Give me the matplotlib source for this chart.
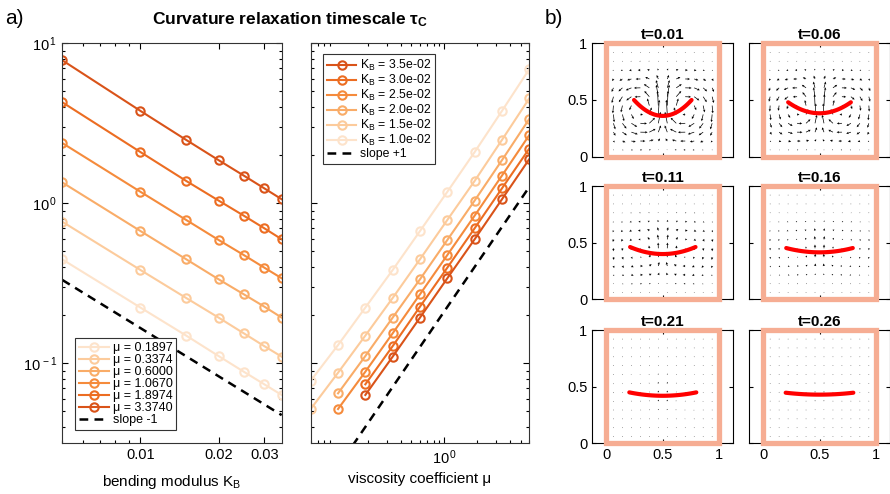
import numpy as np
import matplotlib.pyplot as plt
from matplotlib.ticker import LogLocator, NullFormatter, FixedLocator, FixedFormatter
from matplotlib.patches import Rectangle

plt.rcParams['font.family'] = ['Liberation Sans', 'DejaVu Sans']
plt.rcParams['mathtext.fontset'] = 'custom'
plt.rcParams['mathtext.rm'] = 'Liberation Sans'
plt.rcParams['mathtext.it'] = 'Liberation Sans:italic'
plt.rcParams['mathtext.bf'] = 'Liberation Sans:bold'

# ---- data ----
mu_vals = [0.06, 0.1067, 0.1897, 0.3374, 0.6, 1.067, 1.897, 3.374, 6.0]
kb_vals = [0.005, 0.01, 0.015, 0.02, 0.025, 0.03, 0.035]
nan = np.nan
# tau_c[i][j] -> kb_vals[i], mu_vals[j]
tau_c = np.array([
    [nan, nan, 0.446, 0.767, 1.35, 2.38, 4.28, 7.83, nan],
    [0.0778, 0.130, 0.223, 0.383, 0.671, 1.18, 2.09, 3.78, 6.9],
    [0.0518, 0.0873, 0.149, 0.256, 0.447, 0.787, 1.38, 2.49, 4.53],
    [nan, 0.0649, 0.111, 0.193, 0.335, 0.590, 1.04, 1.86, 3.37],
    [nan, 0.0518, 0.0886, 0.154, 0.270, 0.475, 0.837, 1.49, 2.67],
    [nan, nan, 0.0739, 0.128, 0.226, 0.396, 0.698, 1.24, 2.20],
    [nan, nan, 0.0634, 0.110, 0.193, 0.340, 0.596, 1.06, 1.89],
])
mu_legend = ['0.1897', '0.3374', '0.6000', '1.0670', '1.8974', '3.3740']
kb_legend = ['1.0e-02', '1.5e-02', '2.0e-02', '2.5e-02', '3.0e-02', '3.5e-02']
slope_m1_coef = 0.00166   # tau = c / K_B
slope_p1_coef = 0.211     # tau = c * mu

# panel b
times = ['0.01', '0.06', '0.11', '0.16', '0.21', '0.26']
half_width = [0.255, 0.278, 0.29, 0.295, 0.297, 0.30]
end_y = [0.50, 0.48, 0.462, 0.453, 0.45, 0.447]
mid_y = [0.36, 0.383, 0.40, 0.415, 0.42, 0.43]
flow_amp = [0.13, 0.10, 0.05, 0.033, 0.015, 0.01]
flow_peak = [0.30, 0.32, 0.34, 0.36, 0.38, 0.40]

colors = ['#FDE3CB', '#FCCB9C', '#F9AC68', '#F58B3C', '#EC6D22', '#D95319']

W, H = 890, 494
fig = plt.figure(figsize=(W / 100, H / 100), dpi=100)


def px_axes(x0, y0, x1, y1):
    return fig.add_axes([x0 / W, 1 - y1 / H, (x1 - x0) / W, (y1 - y0) / H])


def log_style(ax):
    ax.tick_params(which='both', direction='in', top=True, right=True,
                   labelsize=10.5, width=0.8)
    ax.tick_params(which='major', length=4)
    ax.tick_params(which='minor', length=2.5)
    for s in ax.spines.values():
        s.set_linewidth(0.8)
        s.set_color('#333333')


def pow_lab(e):
    return r'$\mathregular{10^{\,%d}}$' % e


# ---- left: tau vs K_B ----
ax1 = px_axes(62.3, 43.3, 281.7, 443.3)
for k, j in enumerate(range(2, 8)):
    ax1.plot(kb_vals, tau_c[:, j], '-o', color=colors[k], lw=1.5, ms=6,
             mfc='none', mew=1.5, label='μ = ' + mu_legend[k])
kk = np.array([kb_vals[0], kb_vals[-1]])
ax1.plot(kk, slope_m1_coef / kk, '--', color='k', lw=1.8, dashes=(3.5, 2.5),
         label='slope -1')
ax1.set_xscale('log')
ax1.set_yscale('log')
ax1.set_xlim(0.005, 0.035)
ax1.set_ylim(10 ** -1.5, 10)
ax1.xaxis.set_major_locator(FixedLocator([0.01, 0.02, 0.03]))
ax1.xaxis.set_major_formatter(FixedFormatter(['0.01', '0.02', '0.03']))
ax1.xaxis.set_minor_locator(LogLocator(subs=np.arange(2, 10), numticks=20))
ax1.xaxis.set_minor_formatter(NullFormatter())
ax1.yaxis.set_major_locator(FixedLocator([0.1, 1, 10]))
ax1.yaxis.set_major_formatter(FixedFormatter([pow_lab(-1), pow_lab(0), pow_lab(1)]))
ax1.yaxis.set_minor_locator(LogLocator(subs=np.arange(2, 10), numticks=20))
ax1.yaxis.set_minor_formatter(NullFormatter())
log_style(ax1)
ax1.set_xlabel(r'bending modulus K$_\mathregular{B}$', fontsize=11, labelpad=8)
leg1 = ax1.legend(loc='lower left', bbox_to_anchor=(0.03, 0.018), fontsize=9,
                  handlelength=2.4, labelspacing=0.0, borderpad=0.3,
                  handletextpad=0.3, frameon=True, fancybox=False,
                  edgecolor='#333333', framealpha=1)
leg1.get_frame().set_linewidth(0.8)

# ---- middle: tau vs mu ----
ax2 = px_axes(310.7, 43.3, 529.3, 443.3)
handles = []
for k in range(6):
    row = tau_c[k + 1]
    h, = ax2.plot(mu_vals, row, '-o', color=colors[k], lw=1.5, ms=6,
                  mfc='none', mew=1.5,
                  label=r'K$_\mathregular{B}$ = ' + kb_legend[k])
    handles.append(h)
mm = np.array([mu_vals[0], mu_vals[-1]])
hs, = ax2.plot(mm, slope_p1_coef * mm, '--', color='k', lw=1.8,
               dashes=(3.5, 2.5), label='slope +1')
ax2.set_xscale('log')
ax2.set_yscale('log')
ax2.set_xlim(mu_vals[0], mu_vals[-1])
ax2.set_ylim(10 ** -1.5, 10)
ax2.xaxis.set_major_locator(FixedLocator([1]))
ax2.xaxis.set_major_formatter(FixedFormatter([pow_lab(0)]))
ax2.xaxis.set_minor_locator(LogLocator(subs=np.arange(2, 10), numticks=20))
ax2.xaxis.set_minor_formatter(NullFormatter())
ax2.yaxis.set_major_locator(FixedLocator([0.1, 1, 10]))
ax2.yaxis.set_major_formatter(NullFormatter())
ax2.yaxis.set_minor_locator(LogLocator(subs=np.arange(2, 10), numticks=20))
ax2.yaxis.set_minor_formatter(NullFormatter())
log_style(ax2)
ax2.set_xlabel('viscosity coefficient μ', fontsize=11, labelpad=4)
leg2 = ax2.legend(handles[::-1] + [hs], [h.get_label() for h in handles[::-1]] + ['slope +1'],
                  loc='upper left', bbox_to_anchor=(0.03, 0.988), fontsize=8.8,
                  handlelength=2.4, labelspacing=0.0, borderpad=0.3,
                  handletextpad=0.3, frameon=True, fancybox=False,
                  edgecolor='#333333', framealpha=1)
leg2.get_frame().set_linewidth(0.8)

fig.text(290 / W, 1 - 20 / H,
         r'Curvature relaxation timescale $\mathregular{\tau_C}$',
         ha='center', va='center', fontsize=12.5, fontweight='bold')
fig.text(5 / W, 1 - 18 / H, 'a)', fontsize=15, va='center')
fig.text(545 / W, 1 - 18 / H, 'b)', fontsize=15, va='center')

# ---- right: flow snapshots ----
gx = np.linspace(0.0625, 0.9375, 12)
gy = np.linspace(0.06, 0.92, 12)
X, Y = np.meshgrid(gx, gy)
col_x = [592.3, 749.0]
row_y = [43.3, 186.0, 330.0]
bw, bh = 141.0, 113.4


def psi(x, y, yc):
    # two wall-bounded eddies with an upward jet under the membrane centre
    fx = -np.tanh((x - 0.5) / 0.16) * np.sin(np.pi * x)
    fy = np.sin(np.pi * y) ** 2 * np.exp(-((y - yc) / 0.36) ** 2)
    return fx * fy


for n in range(6):
    r, c = divmod(n, 2)
    ax = px_axes(col_x[c], row_y[r], col_x[c] + bw, row_y[r] + bh)
    hstep = 1e-4
    U = (psi(X, Y + hstep, flow_peak[n]) - psi(X, Y - hstep, flow_peak[n])) / (2 * hstep)
    V = -(psi(X + hstep, Y, flow_peak[n]) - psi(X - hstep, Y, flow_peak[n])) / (2 * hstep)
    sp = np.hypot(U, V).max()
    U = U / sp * flow_amp[n]
    V = V / sp * flow_amp[n]
    ax.quiver(X, Y, U, V, angles='xy', scale_units='xy', scale=1,
              width=0.005, headwidth=3.5, headlength=3.5, headaxislength=3,
              color='k', zorder=2)
    xs = np.linspace(0.5 - half_width[n], 0.5 + half_width[n], 60)
    ys = mid_y[n] + (end_y[n] - mid_y[n]) * ((xs - 0.5) / half_width[n]) ** 2
    ax.plot(xs, ys, color='#FF0000', lw=3, solid_capstyle='round', zorder=4)
    ax.add_patch(Rectangle((0, 0), 1, 1, fill=False, edgecolor='#F6AD93',
                           lw=3.8, clip_on=False, zorder=5))
    ax.set_xlim(-0.125, 1.125)
    ax.set_ylim(0, 1)
    ax.set_xticks([0, 0.5, 1])
    ax.set_yticks([0, 0.5, 1])
    ax.tick_params(direction='in', top=True, right=True, labelsize=10.5,
                   length=3, width=0.8)
    if c == 0:
        ax.set_yticklabels(['0', '0.5', '1'])
    else:
        ax.set_yticklabels([])
    if r == 2:
        ax.set_xticklabels(['0', '0.5', '1'])
    else:
        ax.set_xticklabels([])
    for s in ax.spines.values():
        s.set_linewidth(0.8)
    ax.set_title('t=' + times[n], fontsize=11, fontweight='bold', pad=3)

fig.savefig('out.png', dpi=100)
